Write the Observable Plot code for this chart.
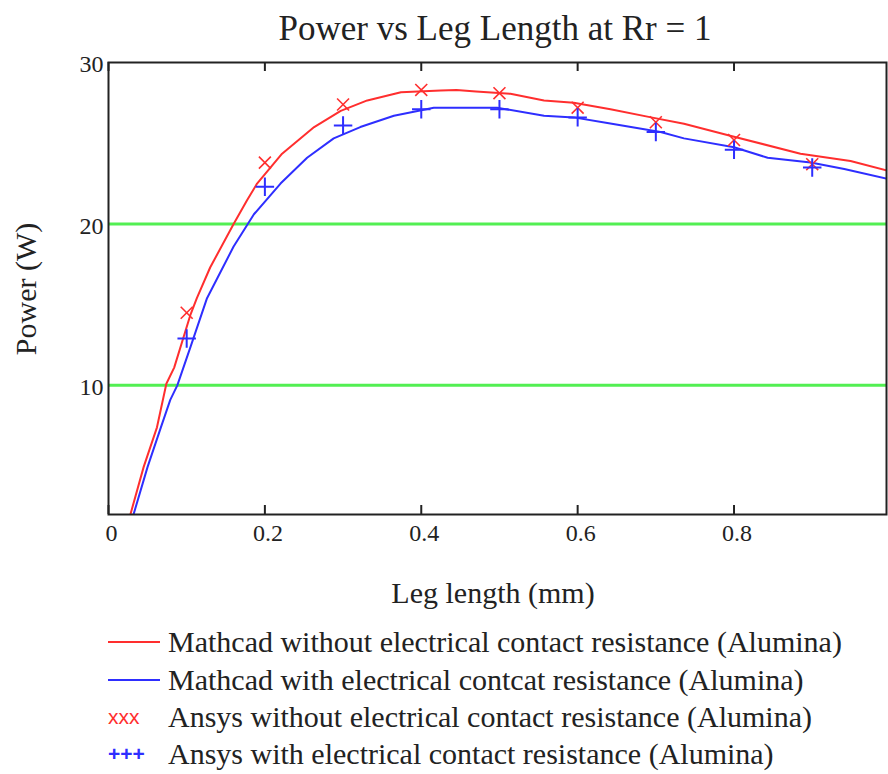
<!DOCTYPE html>
<html><head><meta charset="utf-8">
<script src="https://cdn.jsdelivr.net/npm/d3@7"></script>
<script src="https://cdn.jsdelivr.net/npm/@observablehq/plot@0.6"></script>
<style>body{margin:0;background:#fff;}</style>
</head><body><div id="chart"></div>
<script>
// Mathcad curve without electrical contact resistance (red)
const redX = [0.028,0.045,0.062,0.074,0.084,0.105,0.113,0.130,0.160,0.177,0.190,0.222,0.263,0.297,0.331,0.374,0.425,0.445,0.470,0.514,0.557,0.595,0.642,0.694,0.736,0.800,0.885,0.949,0.996];
const redY = [2.0,4.95,7.4,10.1,11.1,14.4,15.4,17.3,20.0,21.45,22.5,24.35,26.0,27.0,27.65,28.16,28.27,28.3,28.2,28.06,27.65,27.5,27.1,26.6,26.2,25.4,24.35,23.9,23.3];
// Mathcad curve with electrical contact resistance (blue)
const blueX = [0.032,0.050,0.067,0.079,0.088,0.105,0.126,0.160,0.186,0.220,0.254,0.288,0.322,0.365,0.416,0.497,0.557,0.595,0.638,0.706,0.736,0.800,0.843,0.898,0.941,0.996];
const blueY = [2.0,4.95,7.4,9.1,10.0,12.4,15.4,18.6,20.6,22.5,24.1,25.3,26.0,26.7,27.2,27.2,26.7,26.6,26.25,25.7,25.3,24.75,24.1,23.8,23.4,22.8];
// Ansys points
const ansysX = [0.1,0.2,0.3,0.4,0.5,0.6,0.7,0.8,0.9];
const ansysNoR = [14.5,23.8,27.4,28.3,28.1,27.2,26.3,25.2,23.7];
const ansysR = [12.9,22.3,26.1,27.1,27.1,26.6,25.7,24.6,23.5];
const xTicks = [0,0.2,0.4,0.6,0.8];
const yTicks = [10,20,30];
const gridLines = [10,20];
const title = "Power vs Leg Length at Rr = 1";
const xLabel = "Leg length (mm)";
const yLabel = "Power (W)";
const legendLabels = [
  "Mathcad without electrical contact resistance (Alumina)",
  "Mathcad with electrical contcat resistance (Alumina)",
  "Ansys without electrical contact resistance (Alumina)",
  "Ansys with electrical contact resistance (Alumina)"
];

const RED = "#ff2e2e", BLUE = "#2e2eff", GREEN = "#52ef52", INK = "#222";
const red = redX.map((x,i)=>({x, y: redY[i]}));
const blue = blueX.map((x,i)=>({x, y: blueY[i]}));
const pNoR = ansysX.map((x,i)=>({x, y: ansysNoR[i]}));
const pR = ansysX.map((x,i)=>({x, y: ansysR[i]}));
const font = "'Liberation Serif', 'Times New Roman', serif";

const svg = Plot.plot({
  width: 888, height: 774,
  marginTop: 62, marginBottom: 260, marginLeft: 108, marginRight: 2,
  style: {fontFamily: font, background: "#fff", color: INK},
  x: {domain: [0, 0.995]},
  y: {domain: [2, 30]},
  marks: [
    Plot.ruleY(gridLines, {stroke: GREEN, strokeWidth: 3}),
    Plot.line(red, {x: "x", y: "y", stroke: RED, strokeWidth: 2, clip: true}),
    Plot.line(blue, {x: "x", y: "y", stroke: BLUE, strokeWidth: 2, clip: true}),
    Plot.dot(pNoR, {x: "x", y: "y", symbol: "times", r: 5.5, stroke: RED, strokeWidth: 1.6}),
    Plot.dot(pR, {x: "x", y: "y", symbol: "plus", r: 6, stroke: BLUE, strokeWidth: 2}),
    Plot.tickX(xTicks, {x: d => d, insetTop: 443, stroke: INK, strokeWidth: 2}),
    Plot.tickX(xTicks, {x: d => d, insetBottom: 443, stroke: INK, strokeWidth: 2}),
    Plot.frame({stroke: INK, strokeWidth: 2}),
    Plot.axisX({ticks: xTicks, tickSize: 0, tickPadding: 9, dx: 3, fontSize: 24, label: null, tickFormat: d => String(d)}),
    Plot.axisY({ticks: yTicks, tickSize: 0, tickPadding: 5, dy: 2, fontSize: 24, label: null})
  ]
});

const s = d3.select(svg);
s.append("text").text(title).attr("x", 495).attr("y", 40)
  .attr("text-anchor", "middle").attr("font-size", 35).attr("font-family", font).attr("fill", INK);
s.append("text").text(xLabel).attr("x", 493).attr("y", 603)
  .attr("text-anchor", "middle").attr("font-size", 30).attr("font-family", font).attr("fill", INK);
s.append("text").text(yLabel).attr("transform", "translate(36,289) rotate(-90)")
  .attr("text-anchor", "middle").attr("font-size", 30).attr("font-family", font).attr("fill", INK);

const baseY = [652, 690, 727, 764];
const lg = s.append("g");
legendLabels.forEach((lab, i) => {
  const y = baseY[i];
  if (i < 2) {
    lg.append("line").attr("x1", 108).attr("x2", 160).attr("y1", y - 10).attr("y2", y - 10)
      .attr("stroke", i === 0 ? RED : BLUE).attr("stroke-width", 2);
  } else {
    lg.append("text").text(i === 2 ? "xxx" : "+++").attr("x", 108).attr("y", y - 3)
      .attr("text-anchor", "start")
      .attr("font-family", "'Liberation Sans', Arial, sans-serif").attr("font-size", 21)
      .attr("font-weight", i === 3 ? "bold" : "normal")
      .attr("fill", i === 2 ? RED : BLUE);
  }
  lg.append("text").text(lab).attr("x", 168).attr("y", y)
    .attr("text-anchor", "start")
    .attr("font-size", 30).attr("font-family", font).attr("fill", INK);
});

document.getElementById("chart").append(svg);
</script>
</body></html>
